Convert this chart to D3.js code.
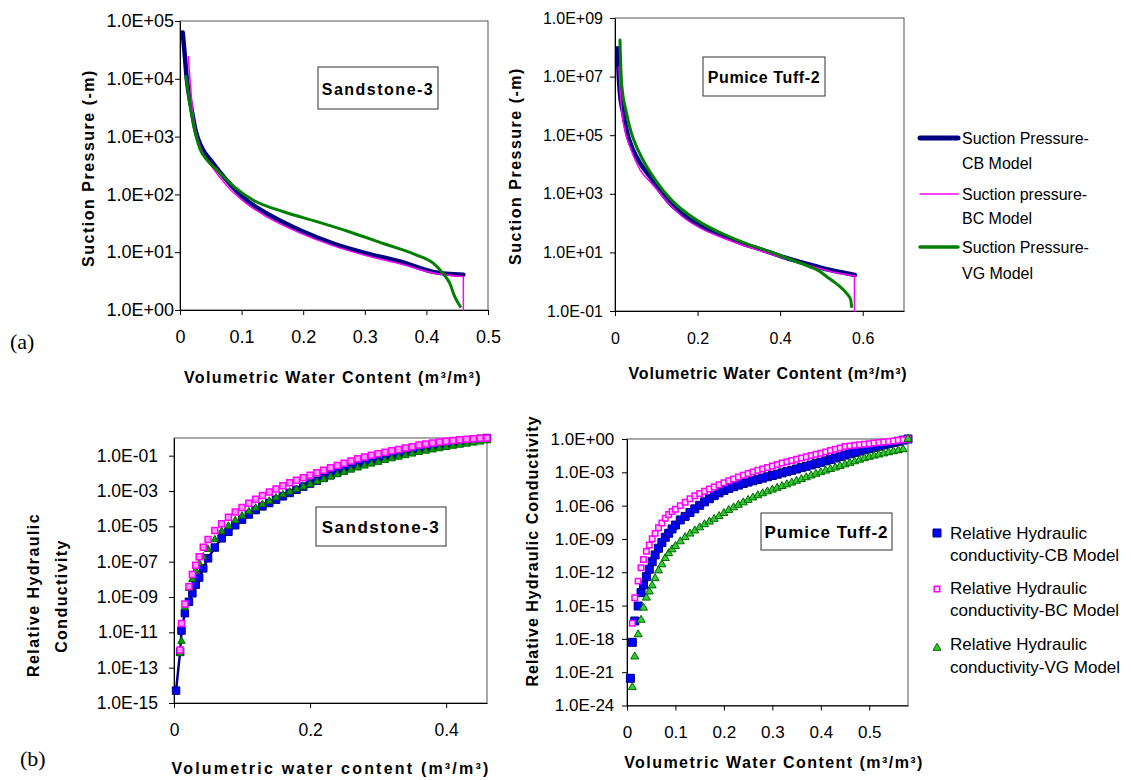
<!DOCTYPE html>
<html>
<head>
<meta charset="utf-8">
<script src="https://cdn.jsdelivr.net/npm/d3@7"></script>
<style>
body { margin: 0; background: #fff; }
svg { display: block; font-family: "Liberation Sans", Arial, sans-serif; }
</style>
</head>
<body>
<script>
// ---- (a) left: Sandstone-3 suction curves, [theta, log10 suction (m)] ----
var sandSuctionCB = [[0.0044, 4.80], [0.007, 4.5], [0.011, 4.0], [0.019, 3.46], [0.025, 3.12], [0.030, 2.94],
    [0.038, 2.76], [0.049, 2.6], [0.076, 2.24], [0.108, 1.90], [0.141, 1.67], [0.195, 1.38], [0.249, 1.15],
    [0.303, 0.98], [0.357, 0.84], [0.411, 0.66], [0.46, 0.61]];
var sandSuctionBC = [[0.0135, 4.38], [0.0216, 3.35], [0.026, 3.08], [0.032, 2.85], [0.038, 2.7], [0.049, 2.52],
    [0.076, 2.15], [0.108, 1.84], [0.141, 1.61], [0.195, 1.33], [0.249, 1.11], [0.303, 0.94], [0.357, 0.80],
    [0.411, 0.64], [0.46, 0.58], [0.46, 0]];
var sandSuctionVG = [[0.0097, 4.04], [0.019, 3.37], [0.032, 2.80], [0.045, 2.58], [0.060, 2.42], [0.087, 2.14],
    [0.119, 1.9], [0.168, 1.70], [0.222, 1.53], [0.276, 1.35], [0.330, 1.15], [0.384, 0.95], [0.411, 0.81],
    [0.427, 0.63], [0.438, 0.46], [0.446, 0.23], [0.455, 0.06]];

// ---- (a) right: Pumice Tuff-2 suction curves ----
var pumiceSuctionCB = [[0.0065, 7.97], [0.008, 7.34], [0.012, 6.43], [0.02, 5.75], [0.032, 4.95], [0.044, 4.49],
    [0.061, 4.04], [0.085, 3.58], [0.109, 3.1], [0.135, 2.65], [0.161, 2.33], [0.21, 1.88], [0.26, 1.58],
    [0.308, 1.31], [0.36, 1.07], [0.406, 0.85], [0.455, 0.65], [0.503, 0.46], [0.545, 0.33], [0.581, 0.23]];
var pumiceSuctionBC = [[0.0097, 7.34], [0.012, 6.6], [0.016, 5.86], [0.025, 5.1], [0.036, 4.61], [0.048, 4.18],
    [0.061, 3.81], [0.085, 3.41], [0.109, 3.02], [0.135, 2.6], [0.161, 2.25], [0.21, 1.8], [0.26, 1.5],
    [0.308, 1.25], [0.36, 1.02], [0.406, 0.82], [0.455, 0.62], [0.503, 0.42], [0.545, 0.28], [0.58, 0.2], [0.58, -1]];
var pumiceSuctionVG = [[0.012, 8.25], [0.016, 6.77], [0.028, 5.75], [0.04, 5.06], [0.056, 4.49], [0.077, 3.92],
    [0.101, 3.41], [0.133, 2.85], [0.17, 2.38], [0.21, 2.0], [0.26, 1.64], [0.327, 1.25], [0.37, 1.05],
    [0.408, 0.85], [0.44, 0.68], [0.472, 0.51], [0.495, 0.36], [0.513, 0.17], [0.53, 0.0], [0.545, -0.17],
    [0.561, -0.40], [0.571, -0.62], [0.573, -0.85]];

// ---- (b) left: Sandstone-3 relative conductivity, log10 Kr at each theta ----
var sandTheta = [0.003, 0.009, 0.011, 0.016, 0.022, 0.027, 0.032, 0.037, 0.043, 0.05,
    0.06, 0.07, 0.08, 0.09, 0.10, 0.11, 0.12, 0.13, 0.14, 0.15, 0.16, 0.17, 0.18, 0.19, 0.20,
    0.21, 0.22, 0.23, 0.24, 0.25, 0.26, 0.27, 0.28, 0.29, 0.30, 0.31, 0.32, 0.33, 0.34, 0.35,
    0.36, 0.37, 0.38, 0.39, 0.40, 0.41, 0.42, 0.43, 0.44, 0.45, 0.46];
var sandKrCB = [-14.3, -12.1, -10.9, -9.92, -9.27, -8.79, -8.3, -7.9, -7.38, -6.81,
    -6.2, -5.68, -5.31, -4.94, -4.62, -4.33, -4.08, -3.87, -3.68, -3.49, -3.30, -3.11, -2.93, -2.75, -2.58,
    -2.42, -2.26, -2.10, -1.94, -1.78, -1.62, -1.48, -1.36, -1.25, -1.14, -1.04, -0.95, -0.87, -0.78, -0.69,
    -0.60, -0.53, -0.46, -0.39, -0.32, -0.25, -0.20, -0.15, -0.10, -0.05, 0];
var sandKrBC = [null, -12.0, -10.5, -9.4, -8.4, -7.72, -7.2, -6.72, -6.19, -5.75,
    -5.23, -4.85, -4.49, -4.19, -3.93, -3.69, -3.46, -3.26, -3.06, -2.88, -2.70, -2.53, -2.39, -2.25, -2.11,
    -1.97, -1.83, -1.69, -1.56, -1.43, -1.30, -1.18, -1.08, -0.98, -0.89, -0.80, -0.72, -0.65, -0.57, -0.49,
    -0.40, -0.34, -0.28, -0.23, -0.18, -0.14, -0.10, -0.07, -0.04, -0.02, 0];
var sandKrVG = [null, -12.2, -11.5, -9.6, -8.5, -8.0, -7.5, -7.1, -6.72, -6.3,
    -5.75, -5.28, -4.98, -4.67, -4.41, -4.17, -3.96, -3.76, -3.57, -3.38, -3.21, -3.05, -2.90, -2.76, -2.62,
    -2.48, -2.34, -2.20, -2.07, -1.94, -1.81, -1.69, -1.58, -1.47, -1.37, -1.27, -1.17, -1.08, -0.99, -0.90,
    -0.81, -0.74, -0.67, -0.60, -0.53, -0.46, -0.40, -0.34, -0.28, -0.22, -0.15];

// ---- (b) right: Pumice Tuff-2 relative conductivity ----
var pumiceTheta = [0.007, 0.011, 0.016, 0.023, 0.029, 0.034, 0.040, 0.046, 0.052, 0.058, 0.065, 0.072, 0.079, 0.086, 0.093,
    0.10, 0.11, 0.12, 0.13, 0.14, 0.15, 0.16, 0.17, 0.18, 0.19, 0.20, 0.21, 0.22, 0.23, 0.24,
    0.25, 0.26, 0.27, 0.28, 0.29, 0.30, 0.31, 0.32, 0.33, 0.34, 0.35, 0.36, 0.37, 0.38, 0.39,
    0.40, 0.41, 0.42, 0.43, 0.44, 0.45, 0.46, 0.47, 0.48, 0.49, 0.50, 0.51, 0.52, 0.53, 0.54,
    0.55, 0.56, 0.57, 0.58];
var pumiceKrCB = [-21.55, -18.31, -16.39, -15.04, -13.84, -13.14, -12.40, -11.73, -11.05, -10.44, -9.84, -9.33, -8.85, -8.49, -8.1,
    -7.75, -7.29, -6.97, -6.62, -6.29, -5.97, -5.66, -5.38, -5.1, -4.85, -4.64, -4.45, -4.30, -4.15, -4.01,
    -3.88, -3.76, -3.64, -3.52, -3.4, -3.29, -3.17, -3.05, -2.94, -2.82, -2.7, -2.58, -2.46, -2.34, -2.22,
    -2.1, -1.97, -1.84, -1.71, -1.58, -1.45, -1.33, -1.21, -1.09, -0.97, -0.86, -0.75, -0.64, -0.53, -0.42,
    -0.32, -0.21, -0.1, 0];
var pumiceKrBC = [null, -16.6, -14.3, -12.8, -11.6, -10.85, -10.12, -9.54, -8.98, -8.5, -8.0, -7.56, -7.14, -6.8, -6.52,
    -6.32, -6.0, -5.7, -5.39, -5.12, -4.9, -4.7, -4.51, -4.33, -4.13, -3.95, -3.77, -3.6, -3.43, -3.27,
    -3.11, -2.96, -2.82, -2.69, -2.56, -2.43, -2.3, -2.17, -2.04, -1.93, -1.82, -1.71, -1.6, -1.49, -1.38,
    -1.28, -1.16, -1.04, -0.92, -0.8, -0.68, -0.62, -0.57, -0.52, -0.47, -0.42, -0.37, -0.32, -0.27, -0.22,
    -0.17, -0.12, -0.06, 0];
var pumiceKrVG = [null, -22.36, -19.6, -17.6, -16.3, -15.2, -14.3, -13.75, -13.2, -12.55, -11.85, -11.3, -10.74, -10.3, -9.95,
    -9.65, -9.23, -8.85, -8.53, -8.25, -7.97, -7.69, -7.45, -7.2, -6.95, -6.68, -6.4, -6.17, -5.94, -5.72,
    -5.5, -5.28, -5.08, -4.9, -4.73, -4.57, -4.41, -4.25, -4.1, -3.94, -3.78, -3.62, -3.46, -3.3, -3.15,
    -3.0, -2.86, -2.72, -2.58, -2.44, -2.3, -2.16, -2.02, -1.88, -1.74, -1.62, -1.51, -1.41, -1.31, -1.21,
    -1.12, -1.03, -0.94, 0];

// ---- ticks and labels ----
var sandSuctionXTicks = [0, 0.1, 0.2, 0.3, 0.4, 0.5];
var sandSuctionYTicks = [0, 1, 2, 3, 4, 5];
var pumiceSuctionXTicks = [0, 0.2, 0.4, 0.6];
var pumiceSuctionYTicks = [-1, 1, 3, 5, 7, 9];
var sandKrXTicks = [0, 0.2, 0.4];
var sandKrYTicks = [-15, -13, -11, -9, -7, -5, -3, -1];
var pumiceKrXTicks = [0, 0.1, 0.2, 0.3, 0.4, 0.5];
var pumiceKrYTicks = [-24, -21, -18, -15, -12, -9, -6, -3, 0];
var suctionLegend = [["Suction Pressure-", "CB Model"], ["Suction pressure-", "BC Model"], ["Suction Pressure-", "VG Model"]];
var krLegend = [["Relative Hydraulic", "conductivity-CB Model"], ["Relative Hydraulic", "conductivity-BC Model"],
    ["Relative Hydraulic", "conductivity-VG Model"]];

var svg = d3.select("body").append("svg")
    .attr("width", 1131)
    .attr("height", 780);

function expLabel(v) {
    var e = Math.round(Math.log10(v));
    return "1.0E" + (e < 0 ? "-" : "+") + d3.format("02")(Math.abs(e));
}

// plain text helper (optional rotation / horizontal squeeze)
function txt(x, y, s, o) {
    o = o || {};
    var tr = "translate(" + x + "," + y + ")";
    if (o.rot) tr += " rotate(" + o.rot + ")";
    if (o.sx) tr += " scale(" + o.sx + ",1)";
    return svg.append("text")
        .attr("transform", tr)
        .attr("text-anchor", o.anchor || "middle")
        .attr("dominant-baseline", "central")
        .attr("font-size", o.size || 16)
        .attr("font-weight", o.bold ? "bold" : null)
        .attr("letter-spacing", o.ls || null)
        .attr("font-family", o.serif ? "'Liberation Serif', 'Times New Roman', serif" : null)
        .attr("fill", "#000")
        .text(s);
}

// frame, axes and scales for one chart
function makePanel(p) {
    var x = d3.scaleLinear().domain([0, p.xMax]).range([p.left, p.right]);
    var y = d3.scaleLog().domain([Math.pow(10, p.yMin), Math.pow(10, p.yMax)]).range([p.bottom, p.top]);

    svg.append("rect")
        .attr("x", p.left).attr("y", p.top)
        .attr("width", p.right - p.left).attr("height", p.bottom - p.top)
        .attr("fill", "none").attr("stroke", "#555").attr("stroke-width", 1);

    var xa = svg.append("g")
        .attr("transform", "translate(0," + p.bottom + ")")
        .call(d3.axisBottom(x).tickValues(p.xTicks).tickSize(5).tickSizeOuter(0).tickPadding(p.xPad)
            .tickFormat(function (d) { return String(d); }));
    var ya = svg.append("g")
        .attr("transform", "translate(" + p.left + ",0)")
        .call(d3.axisLeft(y).tickValues(p.yTicks.map(function (e) { return Math.pow(10, e); }))
            .tickSize(5).tickSizeOuter(0).tickPadding(p.yPad).tickFormat(expLabel));

    [xa, ya].forEach(function (a) {
        a.attr("font-family", null).attr("font-size", null);
        a.select(".domain").attr("stroke", "#000");
        a.selectAll(".tick line").attr("stroke", "#000");
        a.selectAll(".tick text").attr("fill", "#000").attr("font-size", p.fs);
    });
    return { x: x, y: y };
}

function drawCurve(sc, pts, color, w) {
    var line = d3.line()
        .x(function (d) { return sc.x(d[0]); })
        .y(function (d) { return sc.y(Math.pow(10, d[1])); })
        .curve(d3.curveMonotoneX);
    var n = pts.length, d;
    if (pts[n - 1][0] === pts[n - 2][0]) {
        // vertical drop at saturation
        d = line(pts.slice(0, n - 1)) + "L" + sc.x(pts[n - 1][0]) + "," + sc.y(Math.pow(10, pts[n - 1][1]));
    } else {
        d = line(pts);
    }
    svg.append("path")
        .attr("d", d)
        .attr("fill", "none")
        .attr("stroke", color)
        .attr("stroke-width", w)
        .attr("stroke-linejoin", "round")
        .attr("stroke-linecap", "round");
}

function pairs(theta, vals) {
    return theta.map(function (t, i) { return [t, vals[i]]; })
        .filter(function (d) { return d[1] !== null; });
}

function drawMarkers(sc, pts, m) {
    svg.append("g").selectAll("path")
        .data(pts)
        .join("path")
        .attr("transform", function (d) { return "translate(" + sc.x(d[0]) + "," + sc.y(Math.pow(10, d[1])) + ")"; })
        .attr("d", d3.symbol().type(m.shape).size(m.size))
        .attr("fill", m.fill)
        .attr("stroke", m.stroke)
        .attr("stroke-width", m.sw);
}

function boxLabel(x0, y0, x1, y1, s, size, ls) {
    svg.append("rect")
        .attr("x", x0).attr("y", y0).attr("width", x1 - x0).attr("height", y1 - y0)
        .attr("fill", "#fff").attr("stroke", "#333").attr("stroke-width", 1);
    txt((x0 + x1) / 2, (y0 + y1) / 2 + 1, s, { bold: true, size: size, ls: ls });
}

// marker styles
var sq = d3.symbolSquare, tri = d3.symbolTriangle;
var mkSandCB = { shape: sq, size: 56, fill: "#0000ff", stroke: "#000080", sw: 1 };
var mkSandBC = { shape: sq, size: 36, fill: "#ff99ff", stroke: "#ff00ff", sw: 1.5 };
var mkSandVG = { shape: tri, size: 24, fill: "#00a000", stroke: "#006400", sw: 1 };
var mkPumCB = { shape: sq, size: 64, fill: "#0000ff", stroke: "#000080", sw: 1 };
var mkPumBC = { shape: sq, size: 30, fill: "#ffe0ff", stroke: "#ff00ff", sw: 1.5 };
var mkPumVG = { shape: tri, size: 28, fill: "#33cc33", stroke: "#006600", sw: 1 };

// ================= (a) suction pressure =================
var pA = makePanel({ left: 180, right: 488, top: 21, bottom: 310, xMax: 0.5, yMin: 0, yMax: 5,
    xTicks: sandSuctionXTicks, yTicks: sandSuctionYTicks, xPad: 15, yPad: 1, fs: 18 });
drawCurve(pA, sandSuctionCB, "#000080", 4.5);
drawCurve(pA, sandSuctionBC, "#ff00ff", 1.5);
drawCurve(pA, sandSuctionVG, "#008000", 3);
boxLabel(318, 67, 438, 109, "Sandstone-3", 16, 1.5);
txt(88, 168, "Suction Pressure (-m)", { rot: -90, bold: true, size: 16, ls: 1.5 });
txt(333, 377, "Volumetric Water Content (m³/m³)", { bold: true, size: 16, ls: 1.4 });
txt(10, 341, "(a)", { anchor: "start", size: 22, serif: true });

var pB = makePanel({ left: 615, right: 904, top: 18, bottom: 311, xMax: 0.7, yMin: -1, yMax: 9,
    xTicks: pumiceSuctionXTicks, yTicks: pumiceSuctionYTicks, xPad: 17, yPad: 7, fs: 16 });
drawCurve(pB, pumiceSuctionCB, "#000080", 4.5);
drawCurve(pB, pumiceSuctionBC, "#ff00ff", 1.5);
drawCurve(pB, pumiceSuctionVG, "#008000", 3);
boxLabel(703, 57, 825, 96, "Pumice Tuff-2", 16, 0.6);
txt(515, 166, "Suction Pressure (-m)", { rot: -90, bold: true, size: 16, ls: 1.5 });
txt(768, 373, "Volumetric Water Content (m³/m³)", { bold: true, size: 16, ls: 0.8 });

// legend for suction curves
var sucStyles = [["#000080", 5], ["#ff00ff", 1.5], ["#008000", 3.5]];
var sucRows = [[138, 163], [194, 218], [247, 273]];
suctionLegend.forEach(function (lab, i) {
    svg.append("line")
        .attr("x1", 920).attr("x2", 958)
        .attr("y1", sucRows[i][0]).attr("y2", sucRows[i][0])
        .attr("stroke", sucStyles[i][0]).attr("stroke-width", sucStyles[i][1])
        .attr("stroke-linecap", "round");
    txt(962, sucRows[i][0], lab[0], { anchor: "start", size: 17, sx: 0.94 });
    txt(962, sucRows[i][1], lab[1], { anchor: "start", size: 17, sx: 0.94 });
});

// ================= (b) relative hydraulic conductivity =================
var pC = makePanel({ left: 174, right: 487, top: 438, bottom: 703, xMax: 0.46, yMin: -15, yMax: 0,
    xTicks: sandKrXTicks, yTicks: sandKrYTicks, xPad: 16, yPad: 11, fs: 17.5 });
var sandCB = pairs(sandTheta, sandKrCB);
svg.append("path")
    .attr("d", d3.line()
        .x(function (d) { return pC.x(d[0]); })
        .y(function (d) { return pC.y(Math.pow(10, d[1])); })(sandCB))
    .attr("fill", "none").attr("stroke", "#000080").attr("stroke-width", 2.5);
drawMarkers(pC, sandCB, mkSandCB);
drawMarkers(pC, pairs(sandTheta, sandKrVG), mkSandVG);
drawMarkers(pC, pairs(sandTheta, sandKrBC), mkSandBC);
boxLabel(316, 507, 446, 546, "Sandstone-3", 17, 1.5);
txt(33.5, 595, "Relative Hydraulic", { rot: -90, bold: true, size: 16, ls: 1.4 });
txt(61, 596, "Conductivity", { rot: -90, bold: true, size: 16, ls: 1.4 });
txt(331, 768, "Volumetric water content (m³/m³)", { bold: true, size: 16, ls: 2.2 });
txt(20, 758, "(b)", { anchor: "start", size: 22, serif: true });

var pD = makePanel({ left: 627, right: 908, top: 439, bottom: 705.5, xMax: 0.58, yMin: -24, yMax: 0,
    xTicks: pumiceKrXTicks, yTicks: pumiceKrYTicks, xPad: 15.5, yPad: 7.7, fs: 17 });
drawMarkers(pD, pairs(pumiceTheta, pumiceKrCB), mkPumCB);
drawMarkers(pD, pairs(pumiceTheta, pumiceKrBC), mkPumBC);
drawMarkers(pD, pairs(pumiceTheta, pumiceKrVG), mkPumVG);
boxLabel(761, 513, 892, 550, "Pumice Tuff-2", 17, 1);
txt(532, 551, "Relative Hydraulic Conductivity", { rot: -90, bold: true, size: 16, ls: 1 });
txt(774, 762, "Volumetric Water Content (m³/m³)", { bold: true, size: 16, ls: 1.45 });

// legend for conductivity markers
var krMarks = [mkPumCB, mkPumBC, mkPumVG];
var krRows = [[533, 555, 533], [588, 610, 589], [644, 667, 648]];
krLegend.forEach(function (lab, i) {
    svg.append("path")
        .attr("transform", "translate(937," + krRows[i][2] + ")")
        .attr("d", d3.symbol().type(krMarks[i].shape).size(krMarks[i].size))
        .attr("fill", krMarks[i].fill)
        .attr("stroke", krMarks[i].stroke)
        .attr("stroke-width", krMarks[i].sw);
    txt(950, krRows[i][0], lab[0], { anchor: "start", size: 17 });
    txt(950, krRows[i][1], lab[1], { anchor: "start", size: 17 });
});
</script>
</body>
</html>
